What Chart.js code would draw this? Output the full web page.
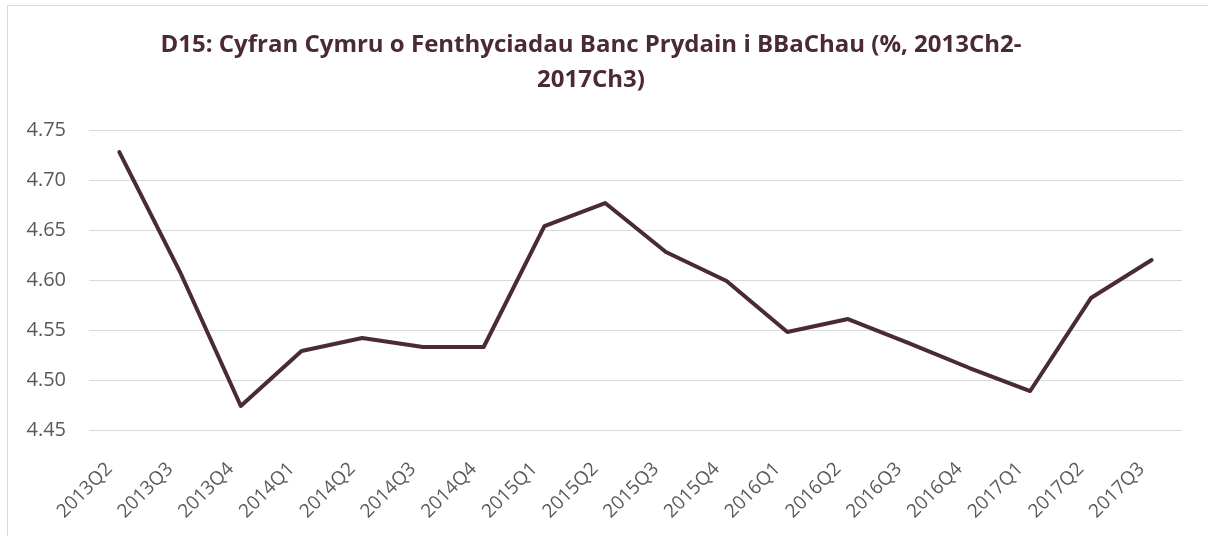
<!DOCTYPE html>
<html>
<head>
<meta charset="utf-8">
<script src="https://cdn.jsdelivr.net/npm/chart.js@4/dist/chart.umd.min.js"></script>
<style>
  html, body { margin: 0; padding: 0; background: #fff; overflow: hidden; }
  #frame {
    position: absolute; left: 7px; top: 5px;
    width: 1220px; height: 560px;
    border: 1px solid #d9d9d9;
  }
  #chart { position: absolute; left: 0; top: 0; }
</style>
</head>
<body>
<div id="frame"></div>
<canvas id="chart" width="1208" height="536"></canvas>
<script>
// Wales share of UK bank lending to SMEs (%)
const quarters = [
  "2013Q2", "2013Q3", "2013Q4",
  "2014Q1", "2014Q2", "2014Q3", "2014Q4",
  "2015Q1", "2015Q2", "2015Q3", "2015Q4",
  "2016Q1", "2016Q2", "2016Q3", "2016Q4",
  "2017Q1", "2017Q2", "2017Q3"
];
const shareValues = [
  4.728, 4.608, 4.474,
  4.529, 4.542, 4.533, 4.533,
  4.654, 4.677, 4.628, 4.599,
  4.548, 4.561, 4.537, 4.512,
  4.489, 4.582, 4.620
];
const yTicks = [4.45, 4.50, 4.55, 4.60, 4.65, 4.70, 4.75];
const titleLines = [
  "D15: Cyfran Cymru o Fenthyciadau Banc Prydain i BBaChau (%, 2013Ch2-",
  "2017Ch3)"
];

const lineColour = "#4a2a34";
const tickColour = "#595959";
const gridColour = "#d9d9d9";
const fontFamily = "'Open Sans', 'DejaVu Sans', sans-serif";

new Chart(document.getElementById("chart"), {
  type: "line",
  data: {
    labels: quarters,
    datasets: [{
      data: shareValues,
      borderColor: lineColour,
      borderWidth: 4,
      borderCapStyle: "round",
      borderJoinStyle: "round",
      pointRadius: 0,
      tension: 0,
      fill: false
    }]
  },
  options: {
    responsive: false,
    animation: false,
    layout: { padding: { left: 0, right: 26, top: 0, bottom: 0 } },
    plugins: {
      legend: { display: false },
      tooltip: { enabled: false },
      title: {
        display: true,
        text: titleLines,
        color: lineColour,
        font: { family: fontFamily, size: 24, weight: "bold", lineHeight: 1.46 },
        padding: { top: 28, bottom: 32 }
      }
    },
    scales: {
      x: {
        offset: true,
        grid: { display: false, drawTicks: false },
        border: { display: false },
        ticks: {
          color: tickColour,
          font: { family: fontFamily, size: 19 },
          minRotation: 45,
          maxRotation: 45,
          autoSkip: false,
          padding: 28,
          labelOffset: -10
        },
        afterFit: (scale) => { scale.height = 106; }
      },
      y: {
        min: 4.45,
        max: 4.75,
        afterBuildTicks: (scale) => { scale.ticks = yTicks.map(v => ({ value: v })); },
        grid: { color: gridColour, lineWidth: 1, drawTicks: false },
        border: { display: false },
        ticks: {
          color: tickColour,
          font: { family: fontFamily, size: 20 },
          padding: 23,
          callback: (v) => Number(v).toFixed(2)
        },
        afterFit: (scale) => { scale.width = 89; }
      }
    }
  }
});
</script>
</body>
</html>
